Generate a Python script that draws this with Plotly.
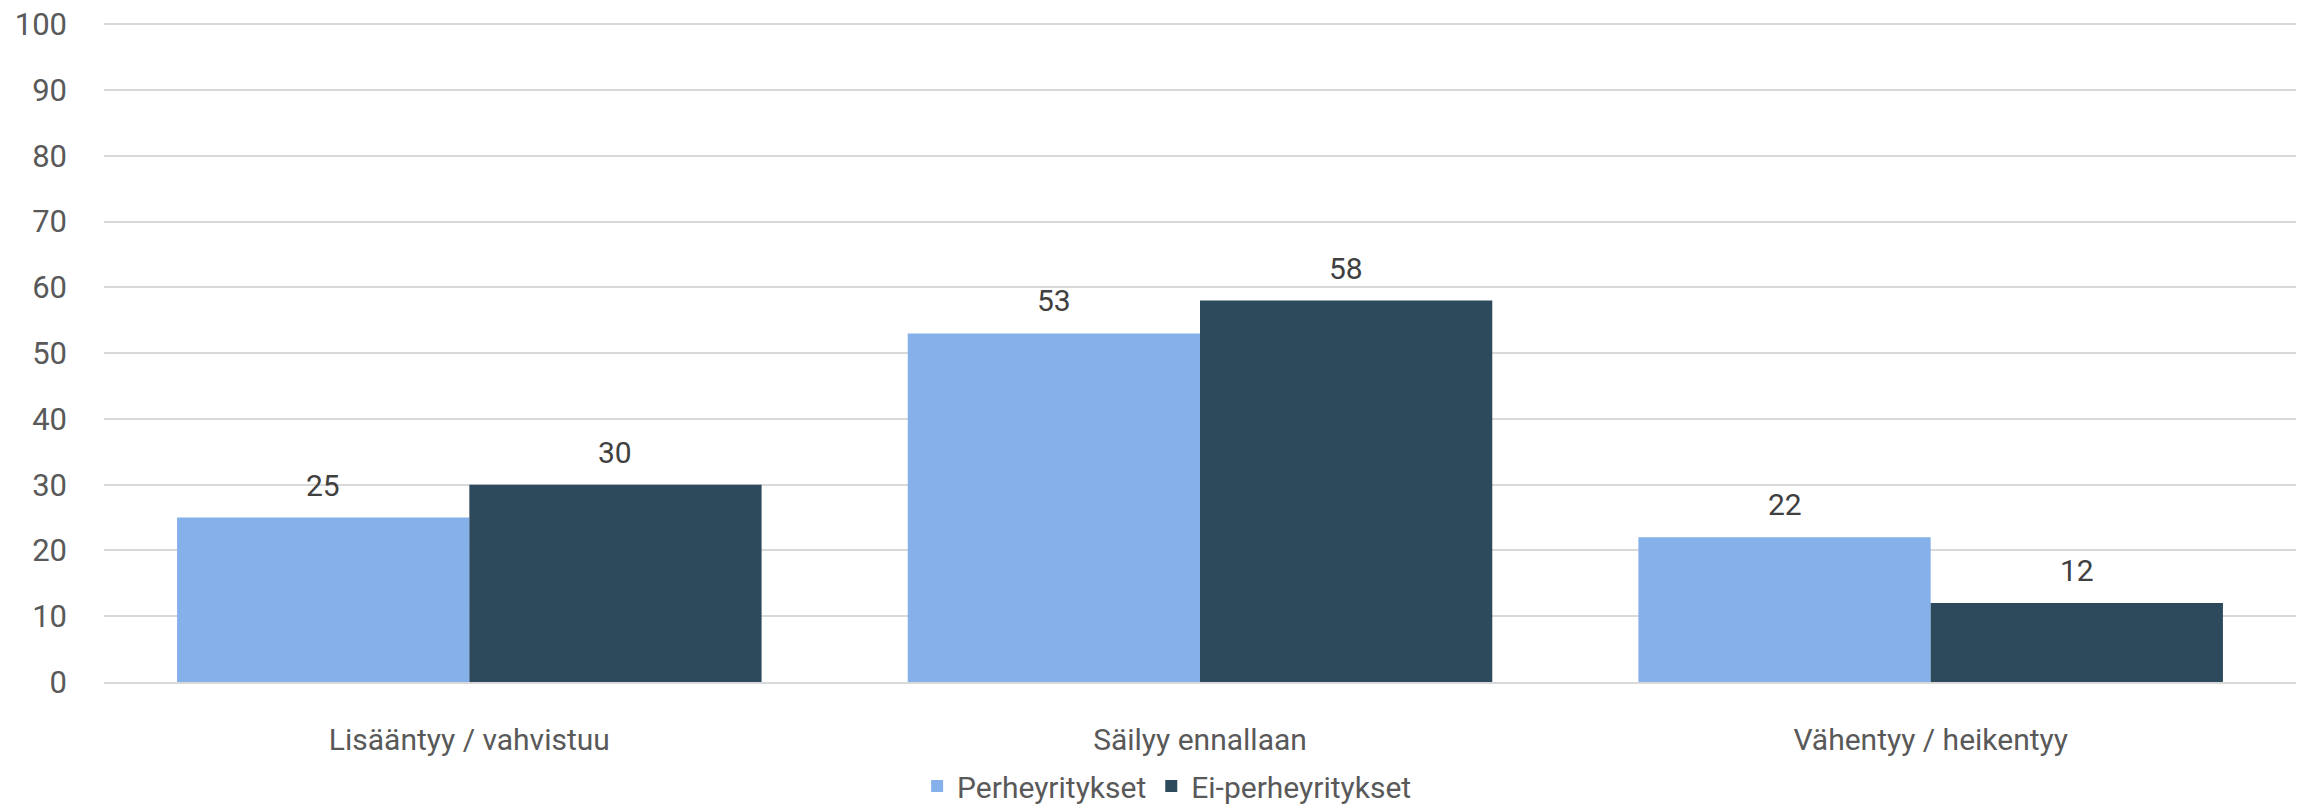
import plotly.graph_objects as go

categories = ["Lisääntyy / vahvistuu", "Säilyy ennallaan", "Vähentyy / heikentyy"]
perhe = [25, 53, 22]
ei_perhe = [30, 58, 12]
series_names = ["Perheyritykset", "Ei-perheyritykset"]
tick_vals = [0, 10, 20, 30, 40, 50, 60, 70, 80, 90, 100]

FONT = "Roboto"
colors = ["#86B0EA", "#2D4A5C"]

fig = go.Figure()
for name, vals, col in zip(series_names, [perhe, ei_perhe], colors):
    fig.add_trace(go.Bar(
        x=categories,
        y=vals,
        name=name,
        marker=dict(color=col, line=dict(width=0)),
    ))

# data labels above bars
for vals, shift in [(perhe, -146), (ei_perhe, 146)]:
    for cat, v in zip(categories, vals):
        fig.add_annotation(
            x=cat, y=v, text=str(v), showarrow=False,
            xshift=shift, yshift=13, yanchor="bottom",
            font=dict(family=FONT, size=30, color="#404040"),
        )

fig.update_layout(
    width=2303,
    height=812,
    margin=dict(l=104, r=7, t=23, b=130),
    barmode="group",
    bargap=0.2,
    bargroupgap=0,
    plot_bgcolor="white",
    paper_bgcolor="white",
    font=dict(family=FONT, size=30, color="#595959"),
    showlegend=True,
    legend=dict(
        orientation="h", x=0.485, xanchor="center",
        yref="container", y=-0.005, yanchor="bottom",
        font=dict(family=FONT, size=30, color="#595959"),
        itemwidth=30,
    ),
)
fig.update_yaxes(
    range=[0, 100.2],
    tickvals=tick_vals,
    showgrid=True,
    gridcolor="#D9D9D9",
    gridwidth=2,
    zeroline=False,
    showline=False,
    ticks="",
    automargin=False,
    ticklabeloverflow="allow",
    ticklabelstandoff=36,
    tickfont=dict(family=FONT, size=31, color="#595959"),
)
fig.update_xaxes(
    showline=True,
    linecolor="#D9D9D9",
    linewidth=2,
    ticks="",
    automargin=False,
    ticklabelstandoff=30,
    tickfont=dict(family=FONT, size=30, color="#595959"),
)

# drop the default 8px body margin so the figure fills the window
fig.write_html(
    "out.html",
    config={"displayModeBar": False},
    post_script="document.body.style.margin='0';",
)
